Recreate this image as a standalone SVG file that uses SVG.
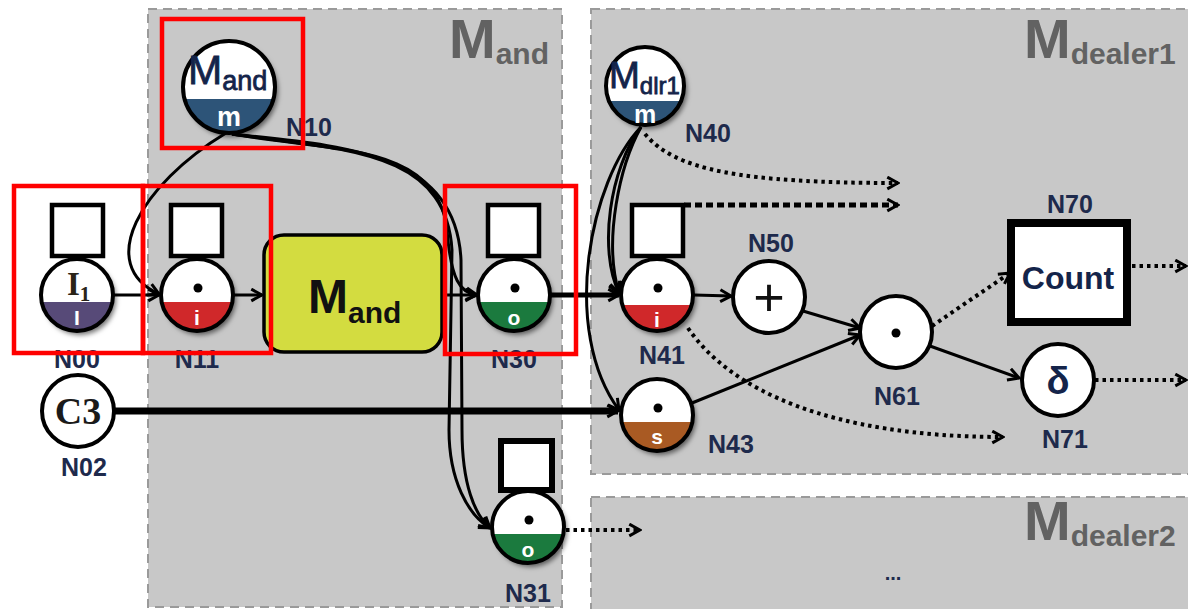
<svg xmlns="http://www.w3.org/2000/svg" width="1188" height="609" viewBox="0 0 1188 609">
<style>
.region{fill:#c8c8c8;stroke:#9a9a9a;stroke-width:2;stroke-dasharray:9 6}
.rlab{font-family:"Liberation Sans",Arial,sans-serif;font-weight:bold;fill:#626262}
.lab{font-family:"Liberation Sans",Arial,sans-serif;font-weight:bold;font-size:25px;fill:#1e2a4c;text-anchor:middle}
.ring{fill:none;stroke:#000;stroke-width:4}
.wc{fill:#fff}
.sq{fill:#fff;stroke:#000;stroke-width:4.5}
.band{font-family:"Liberation Sans",Arial,sans-serif;font-weight:bold;font-size:21px;fill:#fff;text-anchor:middle}
.ed{fill:none;stroke:#000;stroke-width:3;marker-end:url(#arr)}
.dot{fill:none;stroke:#000;stroke-width:4;stroke-dasharray:3.5 4;marker-end:url(#arr)}
.red{fill:none;stroke:#f00;stroke-width:4.5}
.nt{font-family:"Liberation Sans",Arial,sans-serif;fill:#14244a}
</style>
<defs>
<marker id="arr" viewBox="0 0 14 14" refX="12" refY="7" markerWidth="15" markerHeight="15" markerUnits="userSpaceOnUse" orient="auto">
<path d="M2,1.5 L12,7 L2,12.5" fill="none" stroke="#000" stroke-width="2.8"/>
</marker>
<filter id="sh" x="-30%" y="-30%" width="160%" height="160%">
<feDropShadow dx="3" dy="4" stdDeviation="2.5" flood-color="#000" flood-opacity="0.55"/>
</filter>
</defs>
<rect width="1188" height="609" fill="#fff"/>
<g id="regions">
<rect class="region" x="148" y="9" width="414" height="598"/>
<rect class="region" x="591" y="9" width="610" height="465"/>
<rect class="region" x="591" y="497" width="610" height="115"/>
<text class="rlab" x="449" y="58" font-size="56">M<tspan font-size="30" dy="6">and</tspan></text>
<text class="rlab" x="1024" y="58" font-size="56">M<tspan font-size="30" dy="6">dealer1</tspan></text>
<text class="rlab" x="1024" y="540" font-size="56">M<tspan font-size="30" dy="6">dealer2</tspan></text>
<text x="893" y="580" font-family="Liberation Sans,Arial,sans-serif" font-size="20" font-weight="bold" fill="#1e2a4c" text-anchor="middle">...</text>
</g>
<g id="connectors">
<path class="ed" d="M 114 295 L 159 295"/>
<path class="ed" d="M 234 295 L 262 295"/>
<path class="ed" d="M 443 295 L 476 295"/>
<path class="ed" d="M 551 295 L 619 295" style="stroke-width:5"/>
<path class="ed" d="M 694 295 L 731 296"/>
<path class="ed" d="M 803 311 L 860 328"/>
<path class="ed" d="M 692 403 L 860 335"/>
<path class="ed" d="M 930 346 L 1019 378"/>
<path class="ed" d="M 226 133 C 140 185, 95 265, 159 294"/>
<path class="ed" d="M 232 134 C 330 152, 438 142, 447 230 C 451 280, 460 293, 477 295"/>
<path class="ed" d="M 232 134 C 340 150, 446 148, 452 250 L 449 430 C 449 480, 468 515, 490 528"/>
<path class="ed" d="M 232 134 C 345 146, 456 152, 461 260 L 462 430 C 462 485, 475 515, 490 528"/>
<path class="ed" d="M 114 411 L 618 411" style="stroke-width:7"/>
<path class="ed" d="M 641 127 C 610 168, 598 250, 619 293"/>
<path class="ed" d="M 641 127 C 620 165, 603 240, 619 293"/>
<path class="ed" d="M 641 127 C 590 180, 560 330, 619 410"/>
<path class="dot" d="M 645 134 C 675 170, 740 183, 898 183"/>
<path class="dot" d="M 684 205 L 898 205" style="stroke-width:5;stroke-dasharray:7 4"/>
<path class="dot" d="M 688 328 C 730 390, 830 437, 1003 437"/>
<path class="dot" d="M 566 530 L 640 530"/>
<path class="dot" d="M 932 326 L 1010 273"/>
<path class="dot" d="M 1132 266 L 1186 266"/>
<path class="dot" d="M 1095 380 L 1186 380"/>
</g>
<g id="N10">
<g filter="url(#sh)"><circle class="wc" cx="229" cy="87" r="46"/></g>
<path d="M 184.6 99 A 46 46 0 0 0 273.4 99 Z" fill="#2d5478"/>
<circle class="ring" cx="229" cy="87" r="46"/>
<text class="nt" x="188" y="84" font-size="41" stroke="#14244a" stroke-width="0.8">M<tspan font-size="27" dy="6">and</tspan></text>
<text class="band" x="229" y="126" style="font-size:27px">m</text>
<text class="lab" x="309" y="136">N10</text>
</g>
<g id="N40">
<g filter="url(#sh)"><circle class="wc" cx="645" cy="86" r="39"/></g>
<path d="M 609.3 101 A 39 39 0 0 0 680.7 101 Z" fill="#2d5478"/>
<circle class="ring" cx="645" cy="86" r="39"/>
<text class="nt" x="609" y="88" font-size="37" stroke="#14244a" stroke-width="0.8">M<tspan font-size="24" dy="6">dlr1</tspan></text>
<text class="band" x="645" y="123" style="font-size:25px">m</text>
<text class="lab" x="708" y="142">N40</text>
</g>
<g id="N00">
<rect class="sq" x="52" y="205" width="51" height="51"/>
<g filter="url(#sh)"><circle class="wc" cx="77" cy="295" r="36"/></g>
<path d="M 41.7 302 A 36 36 0 0 0 112.3 302 Z" fill="#574a78"/>
<circle class="ring" cx="77" cy="295" r="36"/>
<text x="67" y="295" font-family="Liberation Serif,serif" font-weight="bold" font-size="33" fill="#2a2418">I<tspan font-size="21" dy="6">1</tspan></text>
<text class="band" x="77" y="325">I</text>
<text class="lab" x="77" y="368">N00</text>
</g>
<g id="N11">
<rect class="sq" x="171" y="205" width="51" height="51"/>
<g filter="url(#sh)"><circle class="wc" cx="197" cy="295" r="36"/></g>
<path d="M 161.7 302 A 36 36 0 0 0 232.3 302 Z" fill="#d0282a"/>
<circle class="ring" cx="197" cy="295" r="36"/>
<circle cx="198" cy="288" r="4.5"/>
<text class="band" x="197" y="325">i</text>
<text class="lab" x="197" y="368">N11</text>
</g>
<g id="Mand">
<rect x="264" y="235" width="178" height="117" rx="20" fill="#d3dc40" stroke="#000" stroke-width="3.5"/>
<text x="308" y="313" font-family="Liberation Sans,Arial,sans-serif" font-weight="bold" font-size="48" fill="#111">M<tspan font-size="30" dy="10">and</tspan></text>
</g>
<g id="N30">
<rect class="sq" x="488" y="205" width="51" height="51"/>
<g filter="url(#sh)"><circle class="wc" cx="514" cy="295" r="36"/></g>
<path d="M 478.7 302 A 36 36 0 0 0 549.3 302 Z" fill="#1b7a3e"/>
<circle class="ring" cx="514" cy="295" r="36"/>
<circle cx="515" cy="288" r="4.5"/>
<text class="band" x="514" y="325">o</text>
<text class="lab" x="514" y="368">N30</text>
</g>
<g id="N41">
<rect class="sq" x="632" y="205" width="51" height="51"/>
<g filter="url(#sh)"><circle class="wc" cx="657" cy="295" r="36"/></g>
<path d="M 622.4 305 A 36 36 0 0 0 691.6 305 Z" fill="#d0282a"/>
<circle class="ring" cx="657" cy="295" r="36"/>
<circle cx="658" cy="288" r="4.5"/>
<text class="band" x="657" y="327">i</text>
<text class="lab" x="662" y="364">N41</text>
</g>
<g id="N43">
<g filter="url(#sh)"><circle class="wc" cx="657" cy="415" r="36"/></g>
<path d="M 621.7 422 A 36 36 0 0 0 692.3 422 Z" fill="#a95a23"/>
<circle class="ring" cx="657" cy="415" r="36"/>
<circle cx="658" cy="408" r="4.5"/>
<text class="band" x="657" y="444">s</text>
<text class="lab" x="731" y="453">N43</text>
</g>
<g id="N31">
<rect class="sq" x="501" y="441" width="51" height="49" style="stroke-width:6"/>
<g filter="url(#sh)"><circle class="wc" cx="528" cy="527" r="36"/></g>
<path d="M 492.7 534 A 36 36 0 0 0 563.3 534 Z" fill="#1b7a3e"/>
<circle class="ring" cx="528" cy="527" r="36"/>
<circle cx="529" cy="520" r="4.5"/>
<text class="band" x="528" y="557">o</text>
<text class="lab" x="528" y="602">N31</text>
</g>
<g id="N02">
<circle cx="78" cy="411" r="36" fill="#fff" stroke="#000" stroke-width="4"/>
<text x="78" y="424" font-family="Liberation Serif,serif" font-weight="bold" font-size="38" fill="#1a1a1a" text-anchor="middle">C3</text>
<text class="lab" x="84" y="476">N02</text>
</g>
<g id="N50">
<circle cx="769" cy="297" r="36" fill="#fff" stroke="#000" stroke-width="4"/>
<text x="769" y="316" font-family="Liberation Sans,Arial,sans-serif" font-size="54" fill="#111" text-anchor="middle">+</text>
<text class="lab" x="771" y="252">N50</text>
</g>
<g id="N61">
<circle cx="896" cy="332" r="36" fill="#fff" stroke="#000" stroke-width="4"/>
<circle cx="896" cy="333" r="4.5"/>
<text class="lab" x="897" y="405">N61</text>
</g>
<g id="N70">
<rect x="1011" y="223" width="116" height="99" fill="#fff" stroke="#000" stroke-width="8"/>
<text x="1068" y="289" font-family="Liberation Sans,Arial,sans-serif" font-weight="bold" font-size="32" fill="#14244a" text-anchor="middle">Count</text>
<text class="lab" x="1070" y="213">N70</text>
</g>
<g id="N71">
<circle cx="1058" cy="380" r="36" fill="#fff" stroke="#000" stroke-width="4"/>
<text x="1058" y="394" font-family="Liberation Sans,Arial,sans-serif" font-weight="bold" font-size="38" fill="#14244a" text-anchor="middle">δ</text>
<text class="lab" x="1065" y="448">N71</text>
</g>
<g id="highlights">
<rect class="red" x="162" y="19" width="141" height="129"/>
<rect class="red" x="14" y="186" width="129" height="167"/>
<rect class="red" x="143" y="186" width="128" height="167"/>
<rect class="red" x="445" y="186" width="131" height="168"/>
</g>
</svg>
